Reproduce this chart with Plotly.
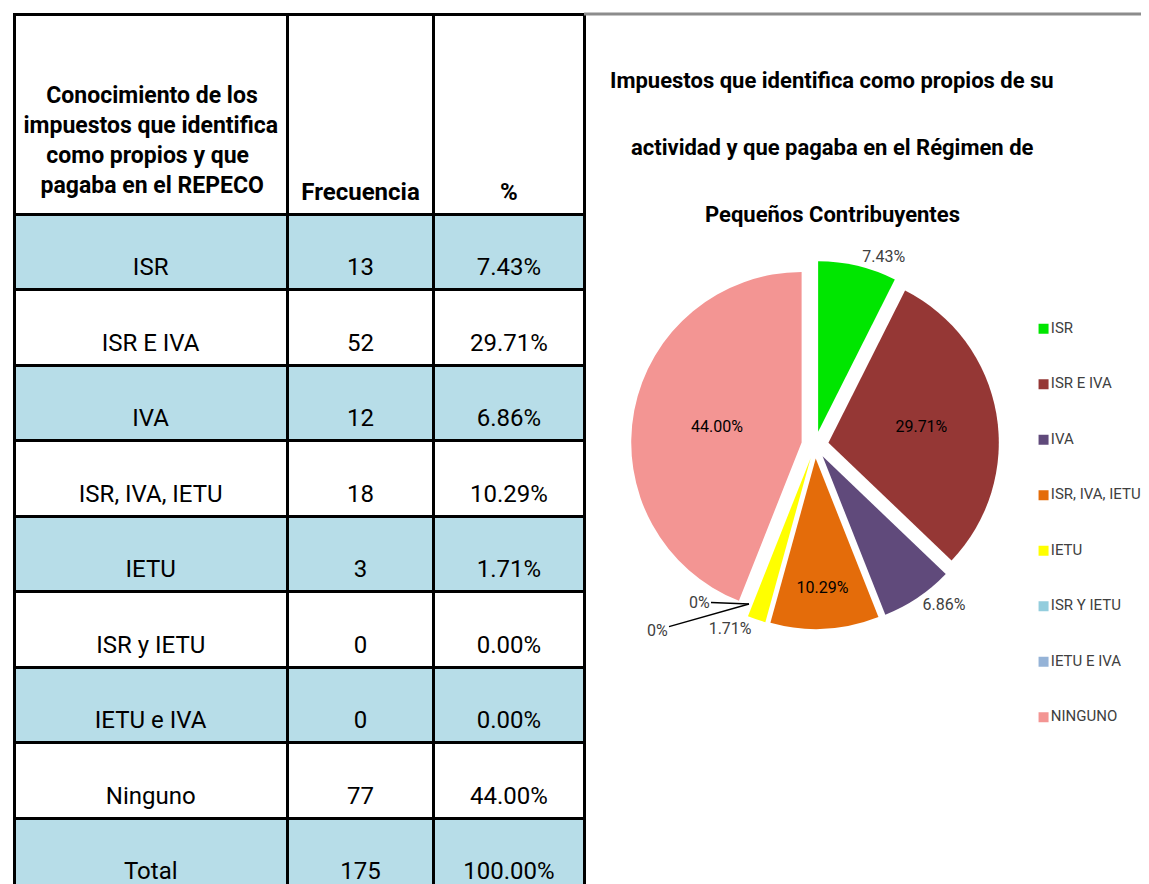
import plotly.graph_objects as go

# ---------------- data ----------------
table_categories = ["ISR", "ISR E IVA", "IVA", "ISR, IVA, IETU", "IETU",
                    "ISR y IETU", "IETU e IVA", "Ninguno"]
frequencies = [13, 52, 12, 18, 3, 0, 0, 77]
legend_labels = ["ISR", "ISR E IVA", "IVA", "ISR, IVA, IETU", "IETU",
                 "ISR Y IETU", "IETU E IVA", "NINGUNO"]
slice_colors = ["#00E600", "#953735", "#604A7B", "#E46C0A", "#FFFF00",
                "#93CDDD", "#95B3D7", "#F39593"]
header_lines = ["Conocimiento de los", "impuestos que identifica",
                "como propios y que", "pagaba en el REPECO"]
header_labels = ["Frecuencia", "%"]
chart_title_lines = ["Impuestos que identifica como propios de su",
                     "actividad y que pagaba en el Régimen de",
                     "Pequeños Contribuyentes"]

total = sum(frequencies)
pct_table = [f"{100 * f / total:.2f}%" for f in frequencies] + ["100.00%"]
pie_text = [f"{100 * f / total:.2f}%" if f > 0 else "" for f in frequencies]

# page has an 8px body margin; map screenshot pixels to paper coords
OFF = 8
W, H = 1141, 876
def px(x):
    return (x - OFF) / W
def py(y):
    return 1 - (y - OFF) / H

FONT = "Roboto, Liberation Sans, sans-serif"
NB = "\u00a0"

fig = go.Figure()

# ---------------- table ----------------
rows_c1 = table_categories + ["Total"]
rows_c2 = [str(f) for f in frequencies] + [str(total)]
fills = ["#B7DDE8" if i % 2 == 0 else "#FFFFFF" for i in range(len(rows_c1))]

# plotly tables left-justify wrapped lines inside a centred block,
# so shorter header lines get a few non-breaking spaces to look centred
header_pad = [4, 0, 4, 3]
header_c1 = (NB + "<br>") * 2 + "<br>".join(
    f"{NB * p}<b>{t}</b>" for p, t in zip(header_pad, header_lines))
top_pad = (NB + "<br>") * 5

fig.add_trace(go.Table(
    domain=dict(x=[px(14), px(584)], y=[0, py(14)]),
    columnwidth=[273, 146, 150],
    header=dict(
        values=[header_c1,
                f"{top_pad}<b>{header_labels[0]}</b>",
                f"{top_pad}<b>{header_labels[1]}</b>"],
        height=198,
        align="center",
        fill_color="white",
        line=dict(color="black", width=3),
        font=dict(family=FONT, size=[23, 24, 24], color="black"),
    ),
    cells=dict(
        values=[[f"{NB}<br>" + v for v in rows_c1],
                [f"{NB}<br>" + v for v in rows_c2],
                [f"{NB}<br>" + v for v in pct_table]],
        height=75.5,
        align="center",
        fill_color=[fills, fills, fills],
        line=dict(color="black", width=3),
        font=dict(family=FONT, size=24, color="black"),
    ),
))

# ---------------- pie ----------------
fig.add_trace(go.Pie(
    labels=legend_labels,
    values=frequencies,
    text=pie_text,
    textinfo="text",
    sort=False,
    direction="clockwise",
    rotation=0,
    pull=[0.08] * len(frequencies),
    marker=dict(colors=slice_colors, line=dict(color="white", width=0)),
    textposition=["outside", "inside", "outside", "inside", "outside",
                  "outside", "outside", "inside"],
    insidetextorientation="horizontal",
    insidetextfont=dict(family=FONT, size=16, color="black"),
    outsidetextfont=dict(family=FONT, size=16, color="#404040"),
    domain=dict(x=[px(631), px(999)], y=[py(629), py(261)]),
    showlegend=False,
    hoverinfo="label+value+percent",
))

# ---------------- custom legend (category axis) ----------------
fig.add_trace(go.Scatter(
    x=[0.5] * len(legend_labels),
    y=legend_labels,
    mode="markers+text",
    marker=dict(symbol="square", size=10, color=slice_colors),
    text=legend_labels,
    textposition="middle right",
    textfont=dict(family=FONT, size=15, color="#404040"),
    xaxis="x2", yaxis="y2",
    showlegend=False,
    hoverinfo="skip",
))

annotations = []
for i, line in enumerate(chart_title_lines):
    annotations.append(dict(
        text=f"<b>{line}</b>", x=px(832), y=py(80 + 67.5 * i),
        xref="paper", yref="paper", showarrow=False,
        xanchor="center", yanchor="middle",
        font=dict(family=FONT, size=22, color="black"),
    ))

# labels for the zero-value slices, with leader lines to their position
zero_label_offsets = [(-50, -2), (-92, 26)]
for (dx, dy) in zero_label_offsets:
    annotations.append(dict(
        text="0%", x=px(749), y=py(604), xref="paper", yref="paper",
        ax=dx, ay=dy, axref="pixel", ayref="pixel",
        showarrow=True, arrowhead=0, arrowwidth=1.5, arrowcolor="black",
        font=dict(family=FONT, size=16, color="#404040"),
    ))

fig.update_layout(
    width=W, height=H,
    margin=dict(l=0, r=0, t=0, b=0),
    paper_bgcolor="white", plot_bgcolor="white",
    xaxis2=dict(domain=[px(1038), 1], range=[0, 10], visible=False, fixedrange=True),
    yaxis2=dict(domain=[py(745), py(301)], type="category",
                categoryorder="array", categoryarray=legend_labels,
                range=[7.5, -0.5], visible=False, fixedrange=True),
    annotations=annotations,
    shapes=[dict(type="line", xref="paper", yref="paper",
                 x0=px(584), x1=1, y0=py(14), y1=py(14),
                 line=dict(color="#8C8C8C", width=3))],
)

fig.write_html("out.html")
